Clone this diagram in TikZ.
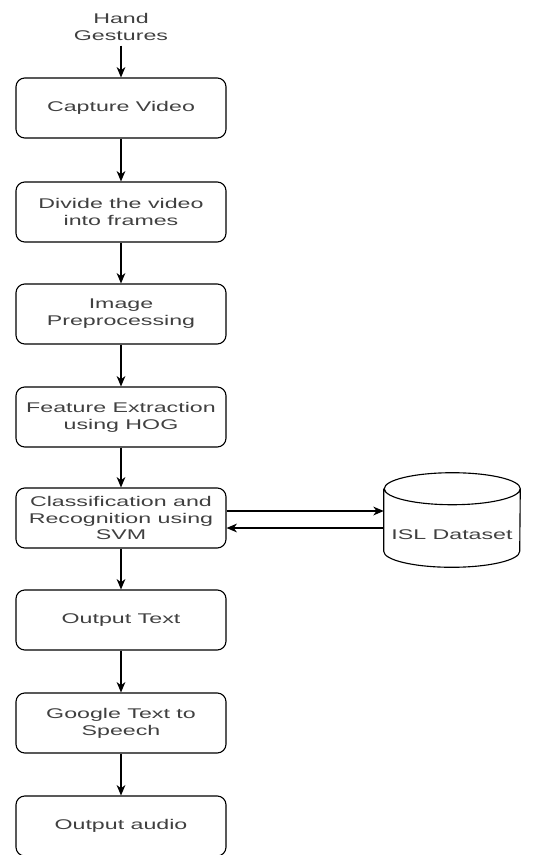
\documentclass[tikz,border=0pt]{standalone}
\usepackage{fontspec}
\setmainfont{Liberation Sans}[FakeStretch=1.65]
\usetikzlibrary{arrows.meta}

\tikzset{
    steptext/.style={text=black!75, font=\fontsize{10}{12}\selectfont, align=center},
    stepbox/.style={steptext, draw=black, line width=0.8pt, rounded corners=0.22cm, minimum width=5.25cm,
        minimum height=1.5cm},
    flow/.style={draw=black, line width=0.9pt, -{Stealth[length=2.6mm,width=2.2mm,inset=0.8mm]}},
    rim/.style={x radius=1.7cm, y radius=0.4cm}
}

\begin{document}
\begin{tikzpicture}
        \useasboundingbox (0,0) rectangle (13.55,-21.375);

        \node[steptext] (hand) at (3.025,-0.675) {Hand\\Gestures};

        \node[stepbox] (capture) at (3.025,-2.7) {Capture Video};
        \node[stepbox] (divide) at (3.025,-5.3) {Divide the video\\into frames};
        \node[stepbox] (prep) at (3.025,-7.85) {Image\\Preprocessing};
        \node[stepbox] (hog) at (3.025,-10.425) {Feature Extraction\\using HOG};
        \node[stepbox] (svm) at (3.025,-12.95) {Classification and\\Recognition using\\SVM};
        \node[stepbox] (outtext) at (3.025,-15.5) {Output Text};
        \node[stepbox] (tts) at (3.025,-18.075) {Google Text to\\Speech};
        \node[stepbox] (audio) at (3.025,-20.65) {Output audio};

        % database drum
        \node[minimum width=3.4cm, minimum height=2.35cm, inner sep=0pt] (isl) at (11.3,-13.0) {};
        \draw[line width=0.8pt] ([yshift=-0.4cm]isl.north west) -- ([yshift=0.4cm]isl.south west)
            arc[start angle=180, end angle=360, rim] -- ([yshift=-0.4cm]isl.north east)
            arc[start angle=0, end angle=180, rim] arc[start angle=180, end angle=360, rim];
        \node[steptext] (isltext) at ([yshift=-0.375cm]isl.center) {ISL Dataset};

        \foreach \a/\b in {hand/capture, capture/divide, divide/prep, prep/hog, hog/svm, svm/outtext, outtext/tts, tts/audio} {
            \draw[flow] (\a) -- (\b);
        }

        \draw[flow] ([yshift=0.175cm]svm.east) -- ([yshift=0.175cm]svm.east -| isl.west);
        \draw[flow] ([yshift=-0.25cm]svm.east -| isl.west) -- ([yshift=-0.25cm]svm.east);

\end{tikzpicture}
\end{document}
